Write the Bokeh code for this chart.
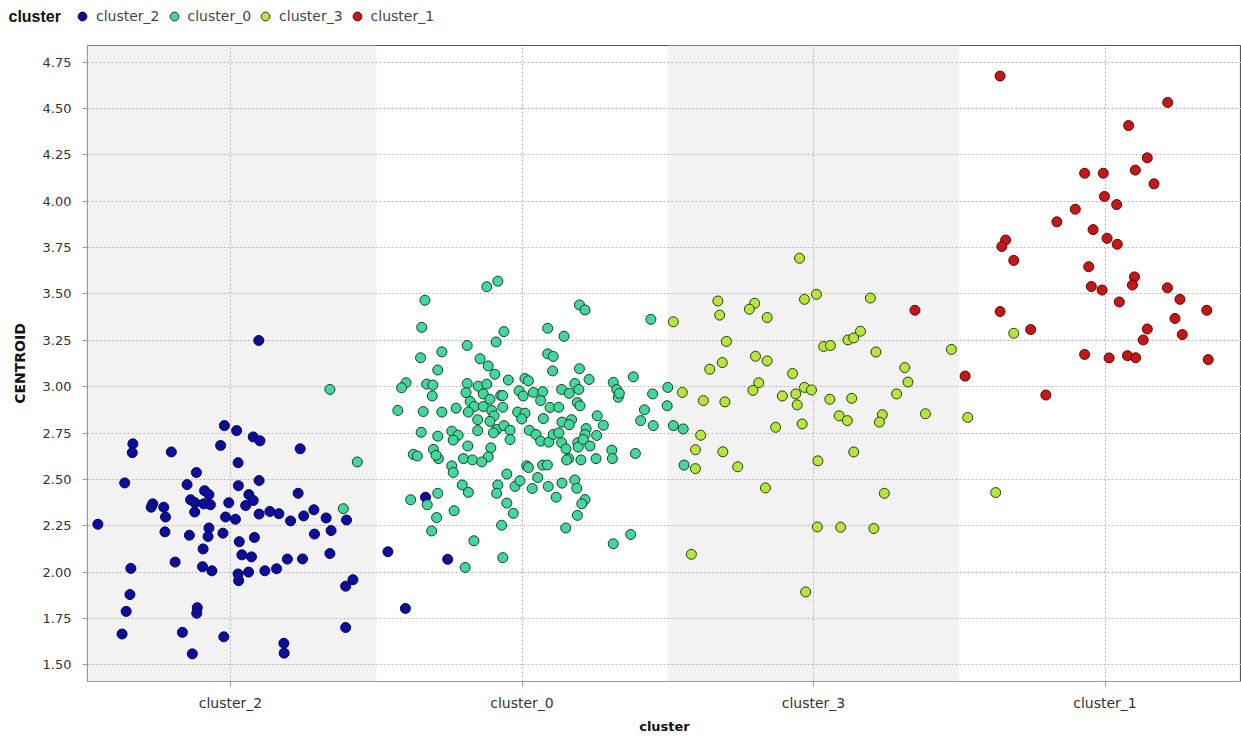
from bokeh.plotting import figure
from bokeh.layouts import column, row
from bokeh.models import (ColumnDataSource, FixedTicker, BoxAnnotation, Legend,
                          LegendItem, NumeralTickFormatter, Label)
from bokeh.embed import file_html
from bokeh.resources import INLINE

# ---------------- data ----------------
categories = ["cluster_2", "cluster_0", "cluster_3", "cluster_1"]
legend_order = ["cluster_2", "cluster_0", "cluster_3", "cluster_1"]
colors = {"cluster_2": "#0c0ca0", "cluster_0": "#3fd99b",
          "cluster_3": "#b7e63a", "cluster_1": "#c81616"}
outlines = {"cluster_2": "#05054a", "cluster_0": "#1d3a2c",
            "cluster_3": "#2c3a10", "cluster_1": "#5a0808"}

y_ticks = [1.50, 1.75, 2.00, 2.25, 2.50, 2.75, 3.00, 3.25, 3.50, 3.75, 4.00, 4.25, 4.50, 4.75]

# jitter (offset within category, in category units) and CENTROID values
c2_jitter = [0.097, -0.021, 0.021, 0.078, 0.101, -0.335, -0.337, -0.203, -0.034, 0.239,
             0.026, -0.117, -0.363, -0.149, 0.027, 0.098, 0.232, -0.089, -0.074, -0.137,
             -0.122, 0.063, 0.078, -0.092, -0.069, -0.006, 0.052, -0.267, -0.272, -0.229,
             -0.223, -0.123, -0.017, 0.017, 0.098, 0.135, 0.166, 0.206, 0.251, 0.286,
             0.328, 0.398, -0.455, -0.225, -0.074, -0.026, -0.141, -0.077, 0.030, 0.082,
             0.288, 0.345, -0.094, 0.039, 0.072, 0.341, -0.190, -0.096, -0.064, 0.247,
             0.195, -0.342, 0.026, 0.028, 0.062, 0.118, 0.158, 0.420, 0.395, -0.345,
             -0.358, -0.114, -0.116, -0.372, -0.165, -0.023, -0.131, 0.183, 0.184, 0.395,
             0.540, 0.669, 0.745, 0.600]
c2_values = [3.249, 2.790, 2.763, 2.729, 2.708, 2.692, 2.644, 2.648, 2.683, 2.665,
             2.590, 2.537, 2.481, 2.472, 2.466, 2.494, 2.425, 2.439, 2.418, 2.390,
             2.374, 2.418, 2.386, 2.368, 2.363, 2.374, 2.359, 2.368, 2.350, 2.350,
             2.297, 2.324, 2.297, 2.285, 2.313, 2.327, 2.315, 2.276, 2.303, 2.336,
             2.292, 2.281, 2.258, 2.217, 2.238, 2.210, 2.199, 2.192, 2.164, 2.187,
             2.205, 2.224, 2.125, 2.093, 2.082, 2.100, 2.054, 2.029, 2.007, 2.071,
             2.070, 2.020, 1.990, 1.954, 2.000, 2.007, 2.018, 1.959, 1.924, 1.879,
             1.788, 1.808, 1.778, 1.666, 1.675, 1.651, 1.559, 1.616, 1.563, 1.701,
             2.110, 2.404, 2.069, 1.804]

c0_jitter = [-0.121, -0.083, -0.333, 0.197, 0.216, -0.344, 0.442, 0.088, 0.144, -0.062,
             -0.089, -0.188, -0.275, -0.348, 0.088, 0.107, -0.144, -0.116, -0.093, -0.289,
             0.105, 0.197, 0.230, 0.382, -0.398, -0.413, -0.327, -0.306, -0.308, -0.188,
             -0.192, -0.150, -0.121, -0.133, -0.110, -0.073, -0.066, -0.047, 0.010, 0.022,
             -0.010, 0.004, 0.039, 0.071, 0.064, 0.136, 0.162, 0.181, 0.195, 0.190,
             0.199, 0.313, 0.325, 0.330, 0.334, 0.448, 0.500, 0.498, 0.420, 0.407,
             0.450, -0.426, -0.339, -0.275, -0.226, -0.178, -0.164, -0.184, -0.133, -0.104,
             -0.096, -0.066, -0.152, -0.152, -0.110, -0.087, -0.098, -0.062, -0.041, -0.041,
             -0.015, 0.010, -0.001, 0.025, 0.048, 0.064, 0.073, 0.096, 0.126, 0.092,
             0.107, 0.126, 0.137, 0.170, 0.162, 0.136, 0.151, 0.160, 0.153, 0.191,
             0.193, 0.220, 0.216, 0.210, 0.233, 0.258, 0.279, 0.256, 0.202, 0.254,
             0.308, 0.310, 0.389, -0.373, -0.359, -0.304, -0.287, -0.295, -0.346, -0.289,
             -0.241, -0.219, -0.236, -0.186, -0.107, -0.116, -0.201, -0.170, -0.138, -0.241,
             -0.236, 0.016, 0.022, 0.071, 0.087, -0.052, 0.054, -0.205, -0.184, -0.083,
             -0.087, -0.024, -0.007, 0.035, 0.090, 0.137, 0.181, 0.188, 0.117, 0.216,
             0.205, 0.190, -0.382, -0.325, -0.289, -0.293, -0.233, -0.052, -0.030, -0.310,
             -0.070, 0.150, -0.165, -0.066, -0.195, 0.313, 0.373, 0.519, 0.553, 0.556,
             -0.659, -0.565, -0.613]
c0_values = [3.539, 3.569, 3.466, 3.441, 3.414, 3.320, 3.363, 3.315, 3.272, 3.297,
             3.241, 3.222, 3.188, 3.156, 3.177, 3.163, 3.151, 3.112, 3.067, 3.090,
             3.085, 3.097, 3.039, 3.053, 3.021, 2.994, 3.014, 3.009, 2.950, 3.017,
             2.968, 3.003, 3.014, 2.961, 2.932, 2.953, 2.952, 3.036, 3.044, 3.032,
             2.978, 2.950, 2.969, 2.973, 2.925, 2.985, 2.964, 3.017, 2.985, 2.914,
             2.897, 3.023, 2.985, 2.943, 2.964, 2.961, 2.996, 2.897, 2.875, 2.817,
             2.790, 2.872, 2.866, 2.863, 2.884, 2.920, 2.893, 2.863, 2.893, 2.872,
             2.843, 2.889, 2.822, 2.763, 2.813, 2.769, 2.751, 2.790, 2.765, 2.715,
             2.863, 2.857, 2.826, 2.765, 2.742, 2.706, 2.828, 2.888, 2.889, 2.701,
             2.742, 2.751, 2.809, 2.822, 2.795, 2.698, 2.665, 2.612, 2.605, 2.698,
             2.674, 2.774, 2.742, 2.715, 2.680, 2.843, 2.792, 2.737, 2.605, 2.612,
             2.658, 2.612, 2.640, 2.635, 2.626, 2.662, 2.612, 2.630, 2.754, 2.733,
             2.760, 2.738, 2.712, 2.680, 2.670, 2.621, 2.612, 2.605, 2.594, 2.573,
             2.537, 2.573, 2.564, 2.577, 2.578, 2.529, 2.510, 2.470, 2.430, 2.470,
             2.425, 2.462, 2.493, 2.451, 2.462, 2.480, 2.497, 2.452, 2.404, 2.391,
             2.368, 2.306, 2.390, 2.363, 2.425, 2.294, 2.331, 2.372, 2.317, 2.222,
             2.253, 2.238, 2.169, 2.078, 2.025, 2.153, 2.203, 2.790, 2.772, 2.577,
             2.985, 2.594, 2.342]

c3_jitter = [-0.048, -0.328, -0.322, -0.202, -0.220, -0.159, -0.031, 0.010, 0.195, -0.481,
             -0.299, 0.035, 0.058, 0.118, 0.138, 0.161, 0.214, 0.473, -0.199, -0.159,
             -0.313, -0.356, -0.072, 0.313, 0.324, -0.450, -0.378, -0.304, -0.188, -0.208,
             -0.107, -0.061, -0.056, -0.031, -0.007, 0.056, 0.131, 0.285, 0.088, 0.116,
             0.236, 0.226, 0.384, 0.529, -0.130, -0.039, -0.387, -0.405, -0.405, -0.311,
             -0.260, 0.015, 0.138, -0.165, 0.243, 0.013, 0.093, 0.207, -0.419, -0.027,
             0.687, 0.625]
c3_values = [3.693, 3.462, 3.386, 3.450, 3.418, 3.373, 3.471, 3.498, 3.478, 3.350,
             3.244, 3.217, 3.222, 3.252, 3.263, 3.299, 3.187, 3.201, 3.164, 3.139,
             3.130, 3.094, 3.071, 3.103, 3.025, 2.969, 2.925, 2.918, 3.021, 2.980,
             2.950, 2.961, 2.902, 2.996, 2.982, 2.932, 2.937, 2.961, 2.843, 2.817,
             2.849, 2.809, 2.854, 2.834, 2.781, 2.799, 2.738, 2.660, 2.558, 2.649,
             2.568, 2.600, 2.648, 2.454, 2.425, 2.244, 2.242, 2.235, 2.096, 1.893,
             3.288, 2.429]

c1_jitter = [-0.360, 0.215, 0.081, 0.145, 0.104, -0.070, -0.006, 0.168, -0.002, 0.040,
             -0.102, -0.165, -0.041, 0.007, 0.042, -0.341, -0.354, -0.313, -0.056, 0.101,
             0.094, -0.047, -0.010, 0.214, 0.257, 0.049, 0.349, -0.360, 0.240, -0.255,
             0.145, 0.131, 0.265, -0.070, 0.014, 0.077, 0.105, 0.354, -0.480, -0.203,
             -0.652]
c1_values = [4.675, 4.533, 4.408, 4.234, 4.168, 4.151, 4.151, 4.094, 4.026, 3.982,
             3.957, 3.889, 3.847, 3.800, 3.768, 3.791, 3.756, 3.681, 3.647, 3.592,
             3.548, 3.540, 3.521, 3.533, 3.471, 3.457, 3.412, 3.405, 3.368, 3.308,
             3.311, 3.252, 3.281, 3.174, 3.155, 3.167, 3.156, 3.146, 3.057, 2.955,
             3.412]

series = {
    "cluster_2": (c2_jitter, c2_values),
    "cluster_0": (c0_jitter, c0_values),
    "cluster_3": (c3_jitter, c3_values),
    "cluster_1": (c1_jitter, c1_values),
}

sources = {}
for i, cat in enumerate(categories):
    jit, vals = series[cat]
    sources[cat] = ColumnDataSource(dict(x=[i + j for j in jit], y=vals))

# ---------------- layout sizes ----------------
W = 1241
HEAD_H = 45          # legend strip above the plot
PLOT_H = 736 - HEAD_H
BL, BB = 87, 48

# ---------------- legend strip ----------------
head = figure(width=W, height=HEAD_H, output_backend="svg", toolbar_location=None,
              x_axis_location=None, y_axis_location=None, x_range=(0, 1), y_range=(0, 1),
              min_border_left=0, min_border_right=0, min_border_top=0, min_border_bottom=0)
head.outline_line_color = None
head.grid.visible = False
head.background_fill_color = "white"
head.border_fill_color = "white"

# legend renderers share the cluster data (all outside this strip's ranges, so only
# their legend glyphs are visible)
head_renderers = {}
for cat in legend_order:
    head_renderers[cat] = head.scatter("x", "y", source=sources[cat], size=10, marker="circle",
                                       fill_color=colors[cat], line_color=outlines[cat],
                                       line_width=1.0)

head.add_layout(Label(x=8, y=HEAD_H - 16, x_units="screen", y_units="screen",
                      text="cluster", text_font="Liberation Sans", text_font_style="bold",
                      text_font_size="16px", text_color="#111111", text_baseline="middle",
                      text_align="left"))
legend = Legend(items=[LegendItem(label=c, renderers=[head_renderers[c]]) for c in legend_order],
                orientation="horizontal", location=(71, HEAD_H - 27),
                label_text_font="DejaVu Sans", label_text_font_size="14px",
                label_text_color="#444444", label_standoff=3, glyph_width=22,
                glyph_height=22, spacing=3, padding=0, margin=0,
                border_line_alpha=0, background_fill_alpha=0)
head.add_layout(legend, "center")

# ---------------- main plot ----------------
p = figure(width=W, height=PLOT_H, output_backend="svg", toolbar_location=None,
           x_range=(-0.4906, 3.4682), y_range=(1.41, 4.84),
           min_border_left=BL, min_border_right=0, min_border_top=0, min_border_bottom=BB)
p.background_fill_color = "white"
p.border_fill_color = "white"
p.outline_line_color = "#555555"
p.outline_line_width = 1.2

# alternating category bands
for i, cat in enumerate(categories):
    if i % 2 == 0:
        p.add_layout(BoxAnnotation(left=i - 0.5, right=i + 0.5, fill_color="#f2f2f2",
                                   fill_alpha=1.0, line_alpha=0, level="image"))

# grid
p.xgrid.ticker = FixedTicker(ticks=list(range(len(categories))))
p.ygrid.ticker = FixedTicker(ticks=y_ticks)
for g in (p.xgrid, p.ygrid):
    g.grid_line_color = "#b8b8b8"
    g.grid_line_dash = "2 2"
    g.grid_line_width = 1

# axes
p.xaxis.ticker = FixedTicker(ticks=list(range(len(categories))))
p.xaxis.major_label_overrides = {i: c for i, c in enumerate(categories)}
p.yaxis.ticker = FixedTicker(ticks=y_ticks)
p.yaxis.formatter = NumeralTickFormatter(format="0.00")
for ax in (p.xaxis[0], p.yaxis[0]):
    ax.axis_line_color = "#9a9a9a"
    ax.major_tick_line_color = "#9a9a9a"
    ax.major_tick_in = 0
    ax.major_tick_out = 5
    ax.minor_tick_line_color = None
    ax.major_label_text_color = "#333333"
    ax.major_label_text_font = "DejaVu Sans"
p.yaxis.major_label_text_font_size = "13px"
p.yaxis.major_label_standoff = 11
p.xaxis.major_label_text_font_size = "14px"
p.xaxis.major_label_standoff = 8

p.xaxis.axis_label = "cluster"
p.yaxis.axis_label = "CENTROID"
for ax in (p.xaxis[0], p.yaxis[0]):
    ax.axis_label_text_font = "DejaVu Sans"
    ax.axis_label_text_font_style = "bold"
    ax.axis_label_text_color = "#111111"
p.xaxis.axis_label_text_font_size = "13px"
p.yaxis.axis_label_text_font_size = "14px"
p.xaxis.axis_label_standoff = 5
p.yaxis.axis_label_standoff = 12

# points
for cat in categories:
    p.scatter("x", "y", source=sources[cat], size=10, marker="circle",
              fill_color=colors[cat], line_color=outlines[cat], line_width=1.0)

layout = column(row(head), p, spacing=0)
open("out.html", "w").write(file_html(layout, INLINE))
